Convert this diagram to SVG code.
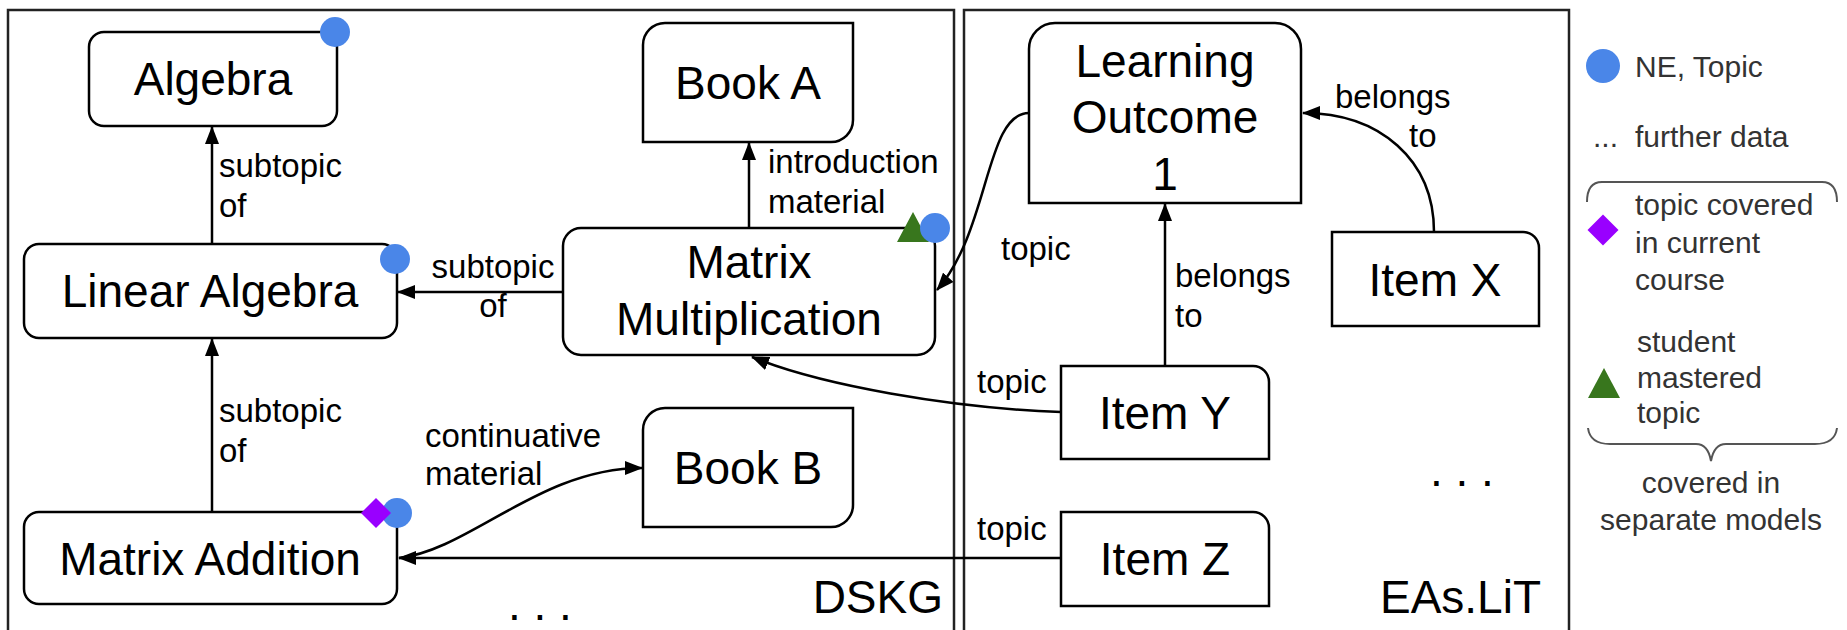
<svg xmlns="http://www.w3.org/2000/svg" width="1847" height="630" viewBox="0 0 1847 630">
<style>
text{font-family:"Liberation Sans",Arial,sans-serif;fill:#000}
.n{font-size:46px;text-anchor:middle}
.big{font-size:46px}
.l{font-size:33px}
.lg{font-size:30px;fill:#333}
.box{fill:#fff;stroke:#000;stroke-width:2.5}
.frame{fill:none;stroke:#222;stroke-width:2.5}
.c{fill:none;stroke:#000;stroke-width:2.5}
.blue{fill:#4a86e8}
.purple{fill:#9900ff}
.green{fill:#38761d}
.brace{fill:none;stroke:#555;stroke-width:2}
</style>
<defs>
<marker id="ah" viewBox="0 0 18 14" markerWidth="18" markerHeight="14" refX="17" refY="7" orient="auto" markerUnits="userSpaceOnUse">
<path d="M0,0 L18,7 L0,14 Z" fill="#000"/>
</marker>
</defs>
<rect width="1847" height="630" fill="#fff"/>
<g id="frames">
<rect class="frame" x="8" y="10" width="946" height="640"/>
<rect class="frame" x="964" y="10" width="605" height="640"/>
<text class="big" x="943" y="613" text-anchor="end">DSKG</text>
<text class="big" x="1541" y="613" text-anchor="end">EAs.LiT</text>
<text class="big" x="508" y="620" font-size="42">. . .</text>
<text class="big" x="1430" y="486">. . .</text>
</g>
<g id="connectors">
<line class="c" x1="212" y1="244" x2="212" y2="127" marker-end="url(#ah)"/>
<line class="c" x1="212" y1="512" x2="212" y2="339" marker-end="url(#ah)"/>
<line class="c" x1="563" y1="292" x2="398" y2="292" marker-end="url(#ah)"/>
<line class="c" x1="749" y1="228" x2="749" y2="143" marker-end="url(#ah)"/>
<path class="c" d="M399,558 C470,550 540,468 642,468" marker-end="url(#ah)"/>
<line class="c" x1="1061" y1="558" x2="399" y2="558" marker-end="url(#ah)"/>
<path class="c" d="M1061,412 C950,408 820,385 752,357" marker-end="url(#ah)"/>
<path class="c" d="M1029,113 C985,113 990,230 937,290" marker-end="url(#ah)"/>
<path class="c" d="M1434,232 C1434,160 1380,113 1303,113" marker-end="url(#ah)"/>
<line class="c" x1="1165" y1="366" x2="1165" y2="204" marker-end="url(#ah)"/>
<text class="l" x="219" y="177">subtopic</text>
<text class="l" x="219" y="217">of</text>
<text class="l" x="493" y="278" text-anchor="middle">subtopic</text>
<text class="l" x="493" y="317" text-anchor="middle">of</text>
<text class="l" x="219" y="422">subtopic</text>
<text class="l" x="219" y="462">of</text>
<text class="l" x="768" y="173">introduction</text>
<text class="l" x="768" y="213">material</text>
<text class="l" x="425" y="447">continuative</text>
<text class="l" x="425" y="485">material</text>
<text class="l" x="1001" y="260">topic</text>
<text class="l" x="1335" y="108">belongs</text>
<text class="l" x="1409" y="147">to</text>
<text class="l" x="1175" y="287">belongs</text>
<text class="l" x="1175" y="327">to</text>
<text class="l" x="977" y="393">topic</text>
<text class="l" x="977" y="540">topic</text>
</g>
<g id="algebra">
<rect class="box" x="89" y="32" width="248" height="94" rx="15"/>
<text class="n" x="213" y="95">Algebra</text>
<circle class="blue" cx="335" cy="32" r="15"/>
</g>
<g id="linear-algebra">
<rect class="box" x="24" y="244" width="373" height="94" rx="15"/>
<text class="n" x="210" y="307">Linear Algebra</text>
<circle class="blue" cx="395" cy="259" r="15"/>
</g>
<g id="matrix-addition">
<rect class="box" x="24" y="512" width="373" height="92" rx="15"/>
<text class="n" x="210" y="575">Matrix Addition</text>
<circle class="blue" cx="397" cy="513" r="15"/>
<path class="purple" d="M376,498 L391,513 L376,528 L361,513 Z"/>
</g>
<g id="book-a">
<path class="box" d="M665,23 L853,23 L853,120 A22,22 0 0 1 831,142 L643,142 L643,45 A22,22 0 0 1 665,23 Z"/>
<text class="n" x="748" y="99">Book A</text>
</g>
<g id="matrix-multiplication">
<rect class="box" x="563" y="228" width="372" height="127" rx="18"/>
<text class="n" x="749" y="278">Matrix</text>
<text class="n" x="749" y="335">Multiplication</text>
<path class="green" d="M913,212 L929,242 L897,242 Z"/>
<circle class="blue" cx="935" cy="228" r="15"/>
</g>
<g id="book-b">
<path class="box" d="M665,408 L853,408 L853,505 A22,22 0 0 1 831,527 L643,527 L643,430 A22,22 0 0 1 665,408 Z"/>
<text class="n" x="748" y="484">Book B</text>
</g>
<g id="learning-outcome">
<path class="box" d="M1029,203 L1029,49 A26,26 0 0 1 1055,23 L1275,23 A26,26 0 0 1 1301,49 L1301,203 Z"/>
<text class="n" x="1165" y="77">Learning</text>
<text class="n" x="1165" y="133">Outcome</text>
<text class="n" x="1165" y="190">1</text>
</g>
<g id="item-x">
<path class="box" d="M1332,232 L1523,232 A16,16 0 0 1 1539,248 L1539,326 L1332,326 Z"/>
<text class="n" x="1435" y="296">Item X</text>
</g>
<g id="item-y">
<path class="box" d="M1061,366 L1253,366 A16,16 0 0 1 1269,382 L1269,459 L1061,459 Z"/>
<text class="n" x="1165" y="429">Item Y</text>
</g>
<g id="item-z">
<path class="box" d="M1061,512 L1253,512 A16,16 0 0 1 1269,528 L1269,606 L1061,606 Z"/>
<text class="n" x="1165" y="575">Item Z</text>
</g>
<g id="legend">
<circle class="blue" cx="1603" cy="66" r="17"/>
<text class="lg" x="1635" y="77">NE, Topic</text>
<text class="lg" x="1593" y="147">...<tspan x="1635">further data</tspan></text>
<path class="brace" d="M1587,202 Q1587,182 1602,182 L1822,182 Q1837,182 1837,202"/>
<path class="purple" d="M1603,214.5 L1618.5,230 L1603,245.5 L1587.5,230 Z"/>
<text class="lg" x="1635" y="215">topic covered</text>
<text class="lg" x="1635" y="253">in current</text>
<text class="lg" x="1635" y="290">course</text>
<path class="green" d="M1604,368 L1620,398 L1588,398 Z"/>
<text class="lg" x="1637" y="352">student</text>
<text class="lg" x="1637" y="388">mastered</text>
<text class="lg" x="1637" y="423">topic</text>
<path class="brace" d="M1588,428 Q1590,444 1610,444 L1696,444 Q1708,444 1711,461 Q1714,444 1726,444 L1815,444 Q1835,444 1837,428"/>
<text class="lg" x="1711" y="493" text-anchor="middle">covered in</text>
<text class="lg" x="1711" y="530" text-anchor="middle">separate models</text>
</g>
</svg>
